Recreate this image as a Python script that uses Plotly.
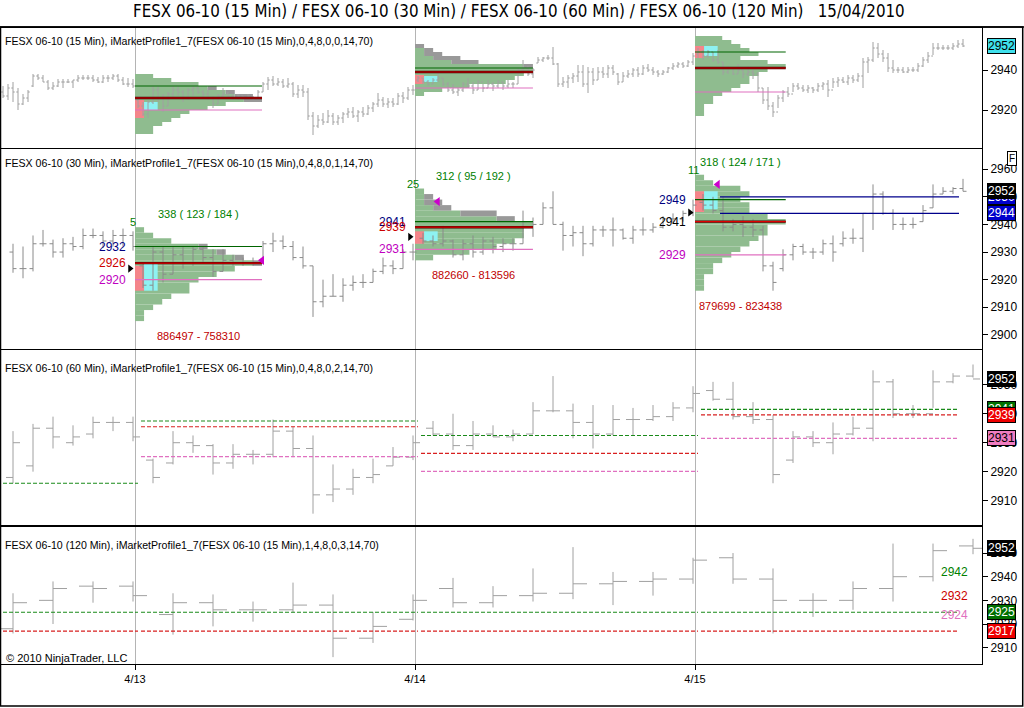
import plotly.graph_objects as go

FONT = "Liberation Sans, Arial, sans-serif"
NARROW = "Liberation Sans Narrow, DejaVu Sans Condensed, Arial Narrow, sans-serif"

# x axis = trading-session hours, 14 h per day (08:00-22:00), 0 = open of 4/13
SESSION_H = 14
DAYS = [-1, 0, 1, 2]            # 4/12 (tail only), 4/13, 4/14, 4/15
day_ticks = [0, 14, 28]
day_labels = ["4/13", "4/14", "4/15"]

# ---------------- 15 min bars ----------------
m15_first_slot = 29
m15_per_day = [27, 56, 56, 54]
m15_high = [
    2932, 2933, 2934, 2931, 2928, 2930, 2938, 2938, 2937.5, 2935, 2934, 2935.5, 2935.5, 2935.5,
    2935, 2937.5, 2937.5, 2937.5, 2937.5, 2936.5, 2937.5, 2937.5, 2938, 2938, 2936.5, 2936, 2935.5,
    # 4/13
    2926, 2924, 2925, 2932, 2932, 2928, 2929, 2932, 2932, 2930,
    2931, 2932, 2932, 2930, 2931, 2927, 2928, 2931, 2929, 2928,
    2928, 2927, 2928, 2927, 2930, 2934, 2936.5, 2937, 2936, 2935.5,
    2936, 2934, 2932.5, 2932.5, 2931, 2919, 2917.5, 2918.5, 2920, 2918.5,
    2917.5, 2919, 2921, 2921.5, 2920, 2921.5, 2922.5, 2924, 2928.5, 2926.5,
    2926, 2926, 2928.5, 2929, 2931.5, 2932.5,
    # 4/14
    2937, 2936, 2935, 2936, 2939, 2936, 2934, 2933, 2931, 2934,
    2936, 2934, 2935, 2933, 2935, 2934, 2935, 2934, 2935, 2934,
    2941, 2945, 2942, 2941, 2946.5, 2946.5, 2947.5, 2951.5, 2943.5, 2936.5,
    2937.5, 2938.5, 2942.5, 2942.5, 2941.5, 2941, 2941.5, 2941.5, 2942.5, 2942.5,
    2938.5, 2939, 2940, 2941, 2941.5, 2942.5, 2943, 2941.5, 2940, 2940,
    2941.5, 2943.5, 2944, 2944, 2945, 2948.5,
    # 4/15
    2951, 2950, 2950, 2949, 2950, 2944, 2942, 2941, 2943, 2940,
    2942, 2940, 2939, 2931, 2931.5, 2924, 2927.5, 2930, 2931.5, 2933.5,
    2933.5, 2932.5, 2932.5, 2931.5, 2933.5, 2934, 2935, 2936, 2936.5, 2936.5,
    2937.5, 2937.5, 2938.5, 2946, 2946.5, 2954, 2953.5, 2950, 2948.5, 2945,
    2941.5, 2941.5, 2941.5, 2941.5, 2943.5, 2946.5, 2949, 2953.5, 2953.5, 2952.5,
    2952.5, 2953.5, 2955, 2955.5,
]
m15_low = [
    2926, 2925, 2924, 2920, 2922.5, 2924, 2931.5, 2935, 2934, 2930, 2930, 2931.5, 2931, 2933.5,
    2931, 2934, 2935, 2935, 2934, 2933.5, 2933.5, 2934, 2935, 2934, 2932.5, 2931.5, 2931,
    2921, 2917, 2916, 2923, 2924, 2919, 2922, 2926, 2927, 2924,
    2925, 2927, 2928, 2926, 2925, 2921, 2923, 2926, 2926, 2925,
    2925, 2925, 2926, 2925, 2926, 2929, 2930, 2932, 2932, 2931,
    2931, 2926.5, 2926, 2926.5, 2915, 2907.5, 2911, 2912.5, 2913.5, 2912.5,
    2912.5, 2913.5, 2916, 2916, 2914, 2916.5, 2917.5, 2919, 2921.5, 2921.5,
    2921, 2921.5, 2922.5, 2923.5, 2925, 2927.5,
    2934, 2933, 2932, 2933, 2934, 2932, 2929, 2928, 2927, 2929,
    2931, 2928, 2930, 2929, 2931, 2929.5, 2931, 2930, 2931, 2931,
    2933, 2939, 2937, 2936, 2943.5, 2944, 2945, 2942.5, 2931.5, 2931.5,
    2931, 2933.5, 2934, 2931.5, 2928.5, 2932.5, 2935, 2936, 2936, 2937.5,
    2932.5, 2934, 2936, 2936.5, 2936.5, 2937.5, 2939, 2937.5, 2936.5, 2937.5,
    2938.5, 2940, 2941, 2941, 2941.5, 2942.5,
    2946, 2945, 2946, 2944, 2943, 2937.5, 2938, 2937.5, 2938, 2936,
    2937, 2935.5, 2929, 2923, 2920, 2916.5, 2921, 2924, 2926.5, 2929,
    2930, 2929, 2928.5, 2928.5, 2929, 2930, 2926.5, 2931, 2931.5, 2933.5,
    2932.5, 2933.5, 2934, 2931, 2938.5, 2944, 2946, 2944, 2939, 2938.5,
    2938.5, 2938.5, 2938.5, 2939, 2939, 2941.5, 2943.5, 2947.5, 2950, 2950,
    2950, 2950, 2951, 2951.5,
]
m15_open = [
    2929, 2927, 2931, 2929, 2923, 2926, 2932, 2937, 2936, 2934, 2931, 2932, 2934, 2934,
    2934, 2935, 2936, 2936, 2936, 2935, 2934, 2936, 2936, 2937, 2935, 2933, 2933,
    2925, 2922, 2918, 2924, 2930, 2926, 2922, 2928, 2930, 2929,
    2926, 2930, 2931, 2929, 2928, 2926, 2923, 2927, 2928, 2927,
    2926, 2927, 2926, 2927, 2926, 2929, 2933, 2935, 2933, 2934,
    2932, 2933, 2928, 2930, 2929, 2917, 2912, 2915, 2914, 2917,
    2914, 2916, 2918, 2919, 2917, 2919, 2918, 2921, 2923, 2925,
    2923, 2924, 2923, 2927, 2926, 2930,
    2935, 2936, 2934, 2933, 2935, 2936, 2933, 2930, 2929, 2930,
    2933, 2932, 2930, 2934, 2931, 2933, 2932, 2934, 2932, 2933,
    2933, 2940, 2941, 2938, 2943.5, 2945, 2946, 2946, 2943, 2933,
    2934, 2936, 2937, 2939, 2933, 2939, 2935, 2939, 2938, 2941,
    2938, 2934, 2937, 2938, 2940, 2938, 2941, 2940, 2939, 2938,
    2939, 2941, 2942, 2943, 2942, 2944,
    2948, 2949, 2947, 2949, 2945, 2944, 2939, 2941, 2938, 2940,
    2938, 2939, 2938, 2931, 2925, 2922, 2919, 2926, 2929, 2928,
    2932, 2931, 2930, 2931, 2930, 2932, 2933, 2930, 2934, 2935,
    2934, 2936, 2935, 2937, 2944, 2945, 2951, 2948, 2946, 2941,
    2940, 2940, 2939, 2940, 2940, 2942, 2945, 2947, 2951, 2951,
    2951, 2951, 2952, 2953,
]
m15_close = [
    2927, 2931, 2929, 2923, 2926, 2929, 2937, 2936, 2934, 2931, 2932, 2934, 2934, 2934,
    2935, 2936, 2936, 2936, 2935, 2934, 2936, 2936, 2937, 2935, 2933, 2933, 2932,
    2922, 2918, 2924, 2930, 2926, 2922, 2928, 2930, 2929, 2926,
    2930, 2931, 2929, 2928, 2926, 2923, 2927, 2928, 2927, 2926,
    2927, 2926, 2927, 2926, 2929, 2933, 2935, 2933, 2934, 2932,
    2933, 2928, 2930, 2929, 2917, 2912, 2915, 2914, 2917, 2914,
    2916, 2918, 2919, 2917, 2919, 2918, 2921, 2923, 2925, 2923,
    2924, 2923, 2927, 2926, 2930, 2930,
    2936, 2934, 2933, 2935, 2936, 2933, 2930, 2929, 2930, 2933,
    2932, 2930, 2934, 2931, 2933, 2932, 2934, 2932, 2933, 2933,
    2940, 2941, 2938, 2940, 2945, 2946, 2946, 2943, 2933, 2934,
    2936, 2937, 2939, 2933, 2939, 2935, 2939, 2938, 2941, 2939,
    2934, 2937, 2938, 2940, 2938, 2941, 2940, 2939, 2938, 2939,
    2941, 2942, 2943, 2942, 2944, 2947,
    2949, 2947, 2949, 2945, 2944, 2939, 2941, 2938, 2940, 2938,
    2939, 2938, 2931, 2925, 2922, 2919, 2926, 2929, 2928, 2932,
    2931, 2930, 2931, 2930, 2932, 2933, 2930, 2934, 2935, 2934,
    2936, 2935, 2937, 2944, 2945, 2951, 2948, 2946, 2941, 2940,
    2940, 2939, 2940, 2940, 2942, 2945, 2947, 2951, 2951, 2951,
    2951, 2952, 2953, 2952,
]

# ---------------- 30 min bars ----------------
m30_first_slot = 15
m30_per_day = [13, 28, 28, 27]
m30_high = [
    2933, 2932, 2936, 2938, 2934.5, 2935, 2935.5, 2938.5, 2938.5, 2937.5, 2938, 2938.5, 2937.5,
    2926, 2932, 2932, 2932, 2932, 2932, 2932, 2931, 2931, 2929, 2928, 2928, 2934, 2937,
    2936, 2934, 2932, 2925, 2920, 2922, 2920.5, 2921.5, 2922, 2924, 2928, 2927, 2931, 2933,
    2937, 2936, 2939.5, 2934.5, 2934.5, 2936, 2935.5, 2935.5, 2935, 2935, 2945, 2942.5, 2948, 2952,
    2941, 2939.5, 2939.5, 2939.5, 2939.5, 2942.5, 2938.5, 2939.5, 2942.5, 2940.5, 2943, 2944, 2945, 2949,
    2951, 2950, 2950, 2942, 2943, 2942, 2939.5, 2926.5, 2931, 2933, 2933, 2931.5, 2934.5, 2936,
    2937.5, 2938.5, 2944, 2954.5, 2952, 2945.5, 2942.5, 2942.5, 2947, 2954.5, 2953.5, 2953.5, 2956.5,
]
m30_low = [
    2922.5, 2920.5, 2923, 2932, 2928, 2928, 2930.5, 2931, 2935, 2931.5, 2932, 2932, 2930.5,
    2917, 2916, 2919, 2922, 2924, 2925, 2926, 2921, 2923, 2925, 2925, 2925, 2926, 2930,
    2931, 2927, 2924, 2906.5, 2910, 2914, 2912, 2916, 2917, 2919, 2922, 2922, 2924, 2927,
    2933, 2932, 2932, 2928, 2927, 2928, 2929, 2929.5, 2930, 2930.5, 2933, 2935.5, 2940, 2940,
    2930.5, 2932, 2928.5, 2932, 2935.5, 2932, 2934.5, 2933, 2936, 2937, 2938.5, 2940.5, 2941, 2943,
    2945, 2944, 2937.5, 2937.5, 2935.5, 2935.5, 2923, 2916, 2923, 2927, 2929, 2927.5, 2929, 2926.5,
    2932, 2933, 2930, 2938, 2943.5, 2938, 2938, 2938.5, 2941, 2946, 2951, 2951, 2952,
]
m30_open = [
    2930, 2924, 2924, 2933, 2933, 2930, 2933, 2932, 2936, 2936, 2934, 2936, 2936,
    2925, 2918, 2930, 2922, 2929, 2926, 2931, 2928, 2923, 2927, 2926, 2926, 2926, 2933,
    2934, 2932, 2928, 2925, 2912, 2914, 2914, 2918, 2919, 2919, 2923, 2925, 2924, 2930,
    2935, 2934, 2933, 2934, 2929, 2933, 2930, 2934, 2932, 2933, 2933, 2941, 2940, 2946,
    2940, 2936, 2937, 2933, 2938, 2938, 2938, 2935, 2938, 2938, 2939, 2942, 2942, 2944,
    2948, 2947, 2945, 2939, 2940, 2939, 2938, 2925, 2924, 2929, 2932, 2930, 2930, 2933,
    2933, 2935, 2935, 2944, 2951, 2944, 2940, 2940, 2941, 2946, 2951, 2952, 2953,
]
m30_close = [
    2924, 2924, 2933, 2933, 2930, 2933, 2932, 2936, 2936, 2934, 2936, 2936, 2932,
    2918, 2930, 2922, 2929, 2926, 2931, 2928, 2923, 2927, 2926, 2926, 2926, 2933, 2934,
    2932, 2928, 2925, 2912, 2914, 2914, 2918, 2919, 2919, 2923, 2925, 2924, 2930, 2930,
    2934, 2933, 2934, 2929, 2933, 2930, 2934, 2932, 2933, 2933, 2941, 2940, 2946, 2940,
    2936, 2937, 2933, 2938, 2938, 2938, 2935, 2938, 2938, 2939, 2942, 2942, 2944, 2947,
    2947, 2945, 2939, 2940, 2939, 2938, 2925, 2919, 2929, 2932, 2930, 2930, 2933, 2930,
    2935, 2935, 2944, 2951, 2944, 2940, 2940, 2940, 2945, 2951, 2952, 2953, 2952,
]

# ---------------- 60 min bars ----------------
m60_first_slot = 7
m60_per_day = [7, 14, 14, 14]
m60_high = [
    2934, 2936.5, 2939, 2936, 2939, 2939, 2939,
    2924.5, 2934, 2932.5, 2929.5, 2929.5, 2927.5, 2938, 2935.5, 2932.5, 2922.5, 2921, 2924.5, 2928.5, 2932.5,
    2937.5, 2940, 2937.5, 2936, 2934.5, 2944, 2953, 2943.5, 2943, 2943, 2942, 2943, 2944, 2949.5,
    2951, 2951, 2944, 2939.5, 2934, 2934, 2937, 2939, 2955, 2952, 2943, 2955, 2954, 2957,
]
m60_low = [
    2916, 2920, 2928, 2929, 2931.5, 2934, 2930.5,
    2916, 2922.5, 2926.5, 2919, 2921, 2922.5, 2925, 2925, 2905.5, 2909.5, 2912, 2916, 2922, 2924,
    2932.5, 2927.5, 2927.5, 2932, 2930.5, 2933, 2940.5, 2931.5, 2928, 2932.5, 2932.5, 2937.5, 2937.5, 2940.5,
    2944.5, 2938, 2936.5, 2916, 2923, 2928.5, 2926, 2932.5, 2930.5, 2938.5, 2938.5, 2942, 2950.5, 2952.5,
]
m60_open = [
    2918, 2922, 2935, 2930, 2933, 2937, 2937,
    2924, 2923, 2930, 2929, 2923, 2926, 2926, 2934, 2928, 2912, 2914, 2918, 2922, 2925,
    2935, 2933, 2929, 2933, 2932, 2933, 2941, 2941, 2937, 2933, 2938, 2938, 2939, 2942,
    2948, 2945, 2939, 2938, 2924, 2932, 2930, 2933, 2935, 2951, 2940, 2940, 2951, 2953,
]
m60_close = [
    2930, 2935, 2932, 2932, 2937, 2937, 2932,
    2918, 2930, 2929, 2923, 2926, 2926, 2934, 2928, 2912, 2914, 2918, 2919, 2925, 2930,
    2933, 2929, 2933, 2932, 2933, 2941, 2941, 2937, 2933, 2938, 2938, 2939, 2942, 2947,
    2945, 2939, 2938, 2919, 2932, 2930, 2933, 2935, 2951, 2940, 2940, 2951, 2953, 2952,
]

# ---------------- 120 min bars ----------------
m120_first_slot = 3
m120_per_day = [4, 7, 7, 7]
m120_high = [2933, 2938, 2938, 2938,
             2933, 2932.5, 2929.5, 2937.5, 2932.5, 2925, 2932.5,
             2939.5, 2936, 2943.5, 2952.5, 2942, 2942, 2948,
             2950, 2943.5, 2933, 2938, 2954, 2954, 2956]
m120_low = [2916, 2920, 2929, 2929.5,
            2915.5, 2919, 2921, 2925, 2906, 2912, 2921.5,
            2927, 2927, 2929.5, 2930.5, 2928, 2932, 2937,
            2937, 2916, 2923, 2926, 2929.5, 2938, 2949.5]
m120_open = [2918, 2930, 2936, 2936,
             2924, 2929, 2926, 2926, 2928, 2914, 2922,
             2935, 2929, 2932, 2933, 2937, 2938, 2939,
             2948, 2939, 2930, 2930, 2935, 2940, 2953]
m120_close = [2929, 2935, 2935, 2932,
              2929, 2926, 2926, 2928, 2914, 2919, 2930,
              2929, 2932, 2933, 2937, 2938, 2939, 2947,
              2939, 2930, 2930, 2935, 2940, 2951, 2952]

# ---------------- market profiles (2-point rows, TPO counts) ----------------
profile_days = [0, 1, 2]
va_high = [2932, 2941, 2949]
poc = [2926, 2939, 2941]
va_low = [2920, 2931, 2929]

# 15 min panel
p1_levels_0413 = [2937, 2935, 2933, 2931, 2929, 2927, 2925, 2923, 2921, 2919, 2917, 2915, 2913, 2911, 2909]
p1_green_0413 = [2, 4, 7, 8, 10, 11, 12, 10, 8, 6, 5, 4, 3, 2, 2]
p1_gray_0413 = [0, 0, 0, 1, 1, 2, 2, 0, 0, 0, 0, 0, 0, 0, 0]
p1_levels_0414 = [2952, 2950, 2948, 2946, 2944, 2942, 2940, 2938, 2936, 2934, 2932, 2930, 2928]
p1_green_0414 = [0, 1, 1, 2, 4, 12, 13, 12, 11, 10, 6, 3, 1]
p1_gray_0414 = [1, 1, 2, 3, 3, 1, 0, 0, 0, 0, 0, 0, 0]
p1_levels_0415 = [2956, 2954, 2952, 2950, 2948, 2946, 2944, 2942, 2940, 2938,
                  2936, 2934, 2932, 2930, 2928, 2926, 2924, 2922, 2920, 2918]
p1_green_0415 = [3, 4, 5, 6, 7, 5, 8, 10, 8, 7, 6, 6, 5, 4, 3, 2, 2, 1, 1, 1]
p1_gray_0415 = [0] * 20

# 30 min panel
p2_levels_0413 = [2938, 2936, 2934, 2932, 2930, 2928, 2926, 2924, 2922, 2920, 2918, 2916, 2914, 2912, 2910, 2908, 2906]
p2_green_0413 = [1, 2, 4, 7, 9, 11, 13, 11, 9, 7, 6, 6, 4, 3, 2, 1, 1]
p2_gray_0413 = [0, 0, 0, 1, 1, 1, 1, 0, 0, 0, 0, 0, 0, 0, 0, 0, 0]
p2_levels_0414 = [2952, 2950, 2948, 2946, 2944, 2942, 2940, 2938, 2936, 2934, 2932, 2930, 2928]
p2_green_0414 = [1, 1, 1, 2, 5, 9, 13, 12, 12, 11, 9, 6, 2]
p2_gray_0414 = [0, 1, 2, 2, 4, 2, 0, 0, 0, 0, 0, 0, 0]
p2_levels_0415 = [2957, 2955, 2953, 2951, 2949, 2947, 2945, 2943, 2941, 2939, 2937,
                  2935, 2933, 2931, 2929, 2927, 2925, 2923, 2921, 2919, 2917]
p2_green_0415 = [1, 2, 5, 6, 5, 6, 6, 8, 10, 8, 8, 7, 6, 5, 4, 3, 2, 2, 1, 1, 1]
p2_gray_0415 = [0] * 21

# opening range blocks (pink) and initial balance blocks (cyan): low, high
p1_pink = [(2916, 2925), (2933, 2937.5), (2946, 2952)]
p1_cyan = [(2920, 2924), (2934, 2937), (2947, 2952)]
p2_pink = [(2916, 2925), (2933, 2937.5), (2944.5, 2952)]
p2_cyan = [(2916, 2926), (2934, 2937.5), (2945.5, 2952)]

# 30 min panel texts and markers
tpo_single = ["5", "25", "11"]
tpo_summary = ["338 ( 123 / 184 )", "312 ( 95 / 192 )", "318 ( 124 / 171 )"]
volume_text = ["886497 - 758310", "882660 - 813596", "879699 - 823438"]
poc_label_color = ["#cc0000", "#cc0000", "#000000"]
open_price = [2924, 2935.5, 2944.3]
close_mark_price = [2927, 2948.3, 2954.5]
close_mark_tpo = [14, 2.5, 2.5]
ib_high_0415 = 2950
ib_low_0415 = 2944

# 60 min panel: previous-day value area carried forward (green / red / pink)
m60_prev_vah = [2916, 2937.5, 2932.5, 2941.5]
m60_prev_poc = [None, 2935.5, 2926.3, 2939.6]
m60_prev_val = [None, 2925.2, 2920.1, 2931.5]
# 120 min panel levels
m120_green = 2925
m120_red = 2917
m120_texts = [("2942", 2942, "#008000"), ("2932", 2932, "#cc0000"), ("2924", 2924, "#e070c0")]

# right-axis tick values per panel
y_ticks = [[2920, 2940], [2900, 2910, 2920, 2930, 2940, 2950, 2960],
           [2910, 2920, 2930, 2940, 2950], [2910, 2920, 2930, 2940, 2950]]

# ---------------- styles ----------------
BAR_GRAY = "#a0a0a0"
BAR_GRAY_DARK = "#8a8a8a"
PROFILE_GREEN = "#8fbc8f"
PROFILE_GRAY = "#999999"
IB_PINK = "#f4858a"
IB_CYAN = "#8ef2f2"
VAH_GREEN = "#006400"
DASH_GREEN = "#1a8a1a"
DASH_RED = "#d82020"
VAL_PINK = "#e070c0"
IB_BLUE = "#00008b"
TPO_W = 0.4536              # x-axis hours per TPO
PINK_W, CYAN_W = 1.0, 1.5   # block widths in TPOs
X_RANGE = [-6.7, 42.35]
Y_DOM = [[0.8113, 1.0], [0.4953, 0.8097], [0.2186, 0.4937], [0.0, 0.2154]]
Y_RANGE = [[2901, 2961], [2894.9, 2967.3], [2901.6, 2962], [2903.1, 2961]]


def ax(i):
    return ("x" if i == 1 else f"x{i}", "y" if i == 1 else f"y{i}")


def bar_times(first_slot, per_day, minutes):
    xs = []
    for day, n in zip(DAYS, per_day):
        k0 = first_slot if day == -1 else 0
        xs += [day * SESSION_H + (k0 + i + 1) * minutes / 60 - 0.1 for i in range(n)]
    return xs


fig = go.Figure()


def add_profile(i, day, levels, green, gray):
    xa, ya = ax(i)
    base = day * SESSION_H
    fig.add_trace(go.Bar(orientation="h", y=levels, x=[g * TPO_W for g in green], base=base,
                         width=2, marker=dict(color=PROFILE_GREEN, line_width=0),
                         xaxis=xa, yaxis=ya, hoverinfo="skip"))
    fig.add_trace(go.Bar(orientation="h", y=levels, x=[g * TPO_W for g in gray],
                         base=[base + g * TPO_W for g in green],
                         width=2, marker=dict(color=PROFILE_GRAY, line_width=0),
                         xaxis=xa, yaxis=ya, hoverinfo="skip"))
    return max(g + r for g, r in zip(green, gray)) * TPO_W


def add_blocks(i, day, pink, cyan):
    xa, ya = ax(i)
    base = day * SESSION_H
    fig.add_trace(go.Bar(orientation="h", y=[(pink[0] + pink[1]) / 2], x=[PINK_W * TPO_W],
                         base=base, width=[pink[1] - pink[0]],
                         marker=dict(color=IB_PINK, line_width=0), xaxis=xa, yaxis=ya, hoverinfo="skip"))
    fig.add_trace(go.Bar(orientation="h", y=[(cyan[0] + cyan[1]) / 2], x=[CYAN_W * TPO_W],
                         base=base + PINK_W * TPO_W, width=[cyan[1] - cyan[0]],
                         marker=dict(color=IB_CYAN, line_width=0), xaxis=xa, yaxis=ya, hoverinfo="skip"))


def add_levels(i, day, extent, vah, p, val):
    xa, ya = ax(i)
    x0 = day * SESSION_H
    for v, color, w in [(vah, VAH_GREEN, 1.2), (val, VAL_PINK, 1.2), (p, "#400000", 2.4), (p, "#e00000", 1.2)]:
        fig.add_trace(go.Scatter(x=[x0, x0 + extent], y=[v, v], mode="lines",
                                 line=dict(color=color, width=w), xaxis=xa, yaxis=ya, hoverinfo="skip"))


def add_ohlc(i, minutes, first_slot, per_day, o, h, l, c, color=BAR_GRAY):
    xa, ya = ax(i)
    fig.add_trace(go.Ohlc(x=bar_times(first_slot, per_day, minutes), open=o, high=h, low=l, close=c,
                          increasing=dict(line=dict(color=color, width=1)),
                          decreasing=dict(line=dict(color=color, width=1)),
                          tickwidth=0.35, xaxis=xa, yaxis=ya, hoverinfo="skip"))


def add_dashed(i, values, color, last_x):
    xa, ya = ax(i)
    xs, ys = [], []
    for day, v in zip(DAYS, values):
        if v is None:
            continue
        x0 = X_RANGE[0] + 0.1 if day == -1 else day * SESSION_H + 0.3
        x1 = last_x if day == DAYS[-1] else (day + 1) * SESSION_H + 0.15
        xs += [x0, x1, None]
        ys += [v, v, None]
    fig.add_trace(go.Scatter(x=xs, y=ys, mode="lines", line=dict(color=color, width=1.1, dash="4px,2px"),
                             xaxis=xa, yaxis=ya, hoverinfo="skip"))


annotations = []

# ---- panel 1: 15 min ----
p1_sets = [(p1_levels_0413, p1_green_0413, p1_gray_0413),
           (p1_levels_0414, p1_green_0414, p1_gray_0414),
           (p1_levels_0415, p1_green_0415, p1_gray_0415)]
for n, day in enumerate(profile_days):
    ext = add_profile(1, day, *p1_sets[n])
    add_blocks(1, day, p1_pink[n], p1_cyan[n])
    add_levels(1, day, ext, va_high[n], poc[n], va_low[n])
add_ohlc(1, 15, m15_first_slot, m15_per_day, m15_open, m15_high, m15_low, m15_close)

# ---- panel 2: 30 min ----
p2_sets = [(p2_levels_0413, p2_green_0413, p2_gray_0413),
           (p2_levels_0414, p2_green_0414, p2_gray_0414),
           (p2_levels_0415, p2_green_0415, p2_gray_0415)]
m30_x = bar_times(m30_first_slot, m30_per_day, 30)
for n, day in enumerate(profile_days):
    levels = p2_sets[n][0]
    ext = add_profile(2, day, *p2_sets[n])
    add_blocks(2, day, p2_pink[n], p2_cyan[n])
    add_levels(2, day, ext, va_high[n], poc[n], va_low[n])
    x0 = day * SESSION_H
    top, bottom = max(levels) + 1, min(levels) - 1
    tf = dict(family=FONT, size=11)
    annotations += [
        dict(x=x0, y=top, xref="x2", yref="y2", text=tpo_single[n], showarrow=False,
             xshift=-2, yshift=5, font=dict(tf, color="#008000")),
        dict(x=x0 + ext / 2, y=top, xref="x2", yref="y2", text=tpo_summary[n], showarrow=False,
             yshift=13, font=dict(tf, color="#008000")),
        dict(x=x0 + ext / 2, y=bottom, xref="x2", yref="y2", text=volume_text[n], showarrow=False,
             yshift=-15, font=dict(tf, color="#c00000")),
    ]
    for v, color in [(va_high[n], "#000080"), (poc[n], poc_label_color[n]), (va_low[n], "#c000c0")]:
        annotations.append(dict(x=x0, y=v, xref="x2", yref="y2", text=str(v), showarrow=False,
                                xanchor="right", xshift=-7, font=dict(family=FONT, size=12, color=color)))
fig.add_trace(go.Scatter(x=[d * SESSION_H - 0.25 for d in profile_days], y=open_price, mode="markers",
                         marker=dict(symbol="triangle-right", size=7, color="black"),
                         xaxis="x2", yaxis="y2", hoverinfo="skip"))
fig.add_trace(go.Scatter(x=[d * SESSION_H + t * TPO_W for d, t in zip(profile_days, close_mark_tpo)],
                         y=close_mark_price, mode="markers",
                         marker=dict(symbol="triangle-left", size=8, color="#cc00cc"),
                         xaxis="x2", yaxis="y2", hoverinfo="skip"))
fig.add_trace(go.Scatter(x=[2 * SESSION_H + 1.25, m30_x[-1] - 0.2, None, 2 * SESSION_H + 1.25, m30_x[-1] - 0.2],
                         y=[ib_high_0415, ib_high_0415, None, ib_low_0415, ib_low_0415], mode="lines",
                         line=dict(color=IB_BLUE, width=1.2), xaxis="x2", yaxis="y2", hoverinfo="skip"))
add_ohlc(2, 30, m30_first_slot, m30_per_day, m30_open, m30_high, m30_low, m30_close, BAR_GRAY_DARK)

# ---- panel 3: 60 min ----
last_x = m30_x[-1] - 0.2
add_dashed(3, m60_prev_vah, DASH_GREEN, last_x)
add_dashed(3, m60_prev_poc, DASH_RED, last_x)
add_dashed(3, m60_prev_val, VAL_PINK, last_x)
add_ohlc(3, 60, m60_first_slot, m60_per_day, m60_open, m60_high, m60_low, m60_close)

# ---- panel 4: 120 min ----
add_dashed(4, [m120_green] * 4, DASH_GREEN, last_x)
add_dashed(4, [m120_red] * 4, DASH_RED, last_x)
add_ohlc(4, 120, m120_first_slot, m120_per_day, m120_open, m120_high, m120_low, m120_close)
for txt, v, color in m120_texts:
    annotations.append(dict(x=41.75, y=v, xref="x4", yref="y4", text=txt, showarrow=False, xanchor="right",
                            font=dict(family=FONT, size=12, color=color)))

# ---- price tags on the right axis ----
tags = [
    (1, m15_close[-1], "#3fe0ec", "black"),
    (2, ib_high_0415, "#0000cc", "white"),
    (2, m30_close[-1], "black", "white"),
    (2, ib_low_0415, "#0000cc", "white"),
    (3, m60_prev_vah[-1], "#007000", "white"),
    (3, m60_prev_poc[-1], "#ee0000", "white"),
    (3, m60_prev_val[-1], "#f07cc0", "black"),
    (3, m60_close[-1], "black", "white"),
    (4, m120_close[-1], "black", "white"),
    (4, m120_green, "#007000", "white"),
    (4, m120_red, "#ee0000", "white"),
]
for i, v, bg, fg in tags:
    xa, ya = ax(i)
    # left-pointing notch of the tag, drawn just outside the axis
    fig.add_trace(go.Scatter(x=[X_RANGE[1] + 0.2], y=[v], mode="markers", cliponaxis=False,
                             marker=dict(symbol="triangle-left", size=9, color=bg, line=dict(color="black", width=1)),
                             xaxis=xa, yaxis=ya, hoverinfo="skip"))
    annotations.append(dict(x=1, y=v, xref="paper", yref=ya, text=str(int(v)), showarrow=False,
                            xanchor="left", xshift=5, bgcolor=bg, bordercolor="black", borderwidth=1,
                            borderpad=0, font=dict(family=FONT, size=12, color=fg)))

# ---- panel captions, title, misc ----
captions = [
    "FESX 06-10 (15 Min), iMarketProfile1_7(FESX 06-10 (15 Min),0,4,8,0,0,14,70)",
    "FESX 06-10 (30 Min), iMarketProfile1_7(FESX 06-10 (15 Min),0,4,8,0,1,14,70)",
    "FESX 06-10 (60 Min), iMarketProfile1_7(FESX 06-10 (15 Min),0,4,8,0,2,14,70)",
    "FESX 06-10 (120 Min), iMarketProfile1_7(FESX 06-10 (15 Min),1,4,8,0,3,14,70)",
]
cap_shift = [-5, -6, -10, -10]
for i, cap in enumerate(captions, start=1):
    annotations.append(dict(x=0, y=1, xref=f"{ax(i)[0]} domain", yref=f"{ax(i)[1]} domain", text=cap,
                            showarrow=False, xanchor="left", yanchor="top", xshift=2, yshift=cap_shift[i - 1],
                            font=dict(family=FONT, size=10.6, color="black")))
annotations += [
    dict(x=0.003, y=0.0094, xref="paper", yref="paper", text="© 2010 NinjaTrader, LLC", showarrow=False,
         xanchor="left", yanchor="middle", font=dict(family=FONT, size=11, color="black")),
    dict(x=0.5285, y=1.026, xref="paper", yref="paper", showarrow=False, yanchor="middle",
         text="FESX 06-10 (15 Min) / FESX 06-10 (30 Min) / FESX 06-10 (60 Min) / FESX 06-10 (120 Min)"
              "\u00a0\u00a0\u00a015/04/2010",
         font=dict(family=NARROW, size=16.8, color="black")),
    dict(x=1.0352, y=0.8065, xref="paper", yref="paper", text="F", showarrow=False, bgcolor="white",
         bordercolor="black", borderwidth=1, borderpad=1, font=dict(family=FONT, size=10, color="black")),
]

layout = dict(
    width=1024, height=708, margin=dict(l=1, r=42, t=28, b=44),
    paper_bgcolor="white", plot_bgcolor="white", showlegend=False, barmode="overlay",
    annotations=annotations,
    shapes=[
        dict(type="line", xref="paper", yref="paper", x0=-0.01, x1=1.05, y0=1.0016, y1=1.0016,
             line=dict(color="black", width=1.5)),
        dict(type="rect", xref="paper", yref="paper", x0=-0.0005, x1=1.0415, y0=-0.066, y1=1.0016,
             line=dict(color="black", width=1.5)),
    ],
)
for i in range(1, 5):
    xa, ya = ax(i)
    layout[xa.replace("x", "xaxis")] = dict(
        domain=[0, 1], anchor=ya, range=X_RANGE, showline=True, mirror=True, linecolor="black", linewidth=1,
        showgrid=True, gridcolor="#b4b4b4", gridwidth=1, tickvals=day_ticks, ticktext=day_labels,
        showticklabels=(i == 4), ticks="outside" if i == 4 else "", ticklen=5, tickcolor="black",
        tickfont=dict(family=FONT, size=11, color="black"), zeroline=False, rangeslider=dict(visible=False))
    layout[ya.replace("y", "yaxis")] = dict(
        domain=Y_DOM[i - 1], anchor=xa, side="right", range=Y_RANGE[i - 1], tickvals=y_ticks[i - 1],
        ticks="outside", ticklen=5, tickcolor="black", showline=True, mirror=True, linecolor="black",
        linewidth=1, showgrid=False, zeroline=False, tickfont=dict(family=FONT, size=12, color="black"))
fig.update_layout(layout)

# the page's default 8px body margin would push the 1024px figure off the window
fig.write_html("out.html", config={"displayModeBar": False},
               post_script="document.body.style.margin='0px';")
